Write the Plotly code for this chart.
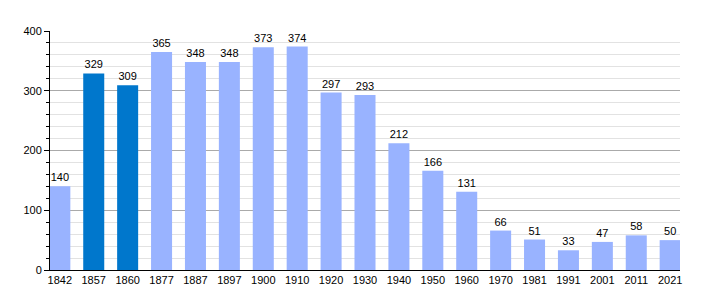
import plotly.graph_objects as go

years = ["1842", "1857", "1860", "1877", "1887", "1897", "1900", "1910", "1920", "1930",
         "1940", "1950", "1960", "1970", "1981", "1991", "2001", "2011", "2021"]
population = [140, 329, 309, 365, 348, 348, 373, 374, 297, 293,
              212, 166, 131, 66, 51, 33, 47, 58, 50]
highlight_years = ["1857", "1860"]

light = "#99b3ff"
dark = "#0077cc"
colors = [dark if y in highlight_years else light for y in years]

fig = go.Figure(go.Bar(
    x=years, y=population, marker=dict(color=colors, line=dict(width=0)),
    width=0.62, text=[str(v) for v in population], textposition="outside",
    textfont=dict(size=11, color="black", family="Liberation Sans, Arial, sans-serif"),
    cliponaxis=False,
))

fig.update_layout(
    width=710, height=300, margin=dict(l=50, r=30, t=31, b=30),
    paper_bgcolor="white", plot_bgcolor="white", showlegend=False,
    font=dict(family="Liberation Sans, Arial, sans-serif", size=11, color="black"),
    xaxis=dict(type="category", range=[-0.29, 18.29], showline=True, linecolor="black",
               linewidth=1, ticks="", showgrid=False, tickfont=dict(size=11)),
    yaxis=dict(range=[0, 400], dtick=100, showline=True, linecolor="black", linewidth=1,
               ticks="outside", ticklen=5, tickcolor="black", gridcolor="#aaaaaa",
               zeroline=False, tickfont=dict(size=11),
               minor=dict(dtick=20, showgrid=True, gridcolor="#e2e2e2", ticks="outside",
                          ticklen=3, tickcolor="black")),
)

fig.write_html("out.html")
